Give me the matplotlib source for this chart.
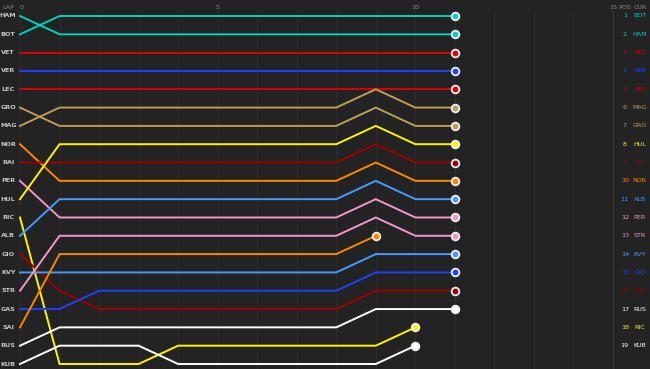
import numpy as np
import matplotlib.pyplot as plt

plt.rcParams['font.family'] = ['DejaVu Sans']

LAPS = list(range(12))
GRID = ["HAM", "BOT", "VET", "VER", "LEC", "GRO", "MAG", "NOR", "RAI", "PER",
        "HUL", "RIC", "ALB", "GIO", "KVY", "STR", "GAS", "SAI", "RUS", "KUB"]

# position per lap (lap 0 = grid); None once the driver has no more data
POSITIONS = {
    "HAM": [1, 2, 2, 2, 2, 2, 2, 2, 2, 2, 2, 2],
    "BOT": [2, 1, 1, 1, 1, 1, 1, 1, 1, 1, 1, 1],
    "VET": [3, 3, 3, 3, 3, 3, 3, 3, 3, 3, 3, 3],
    "VER": [4, 4, 4, 4, 4, 4, 4, 4, 4, 4, 4, 4],
    "LEC": [5, 5, 5, 5, 5, 5, 5, 5, 5, 5, 5, 5],
    "GRO": [6, 7, 7, 7, 7, 7, 7, 7, 7, 6, 7, 7],
    "MAG": [7, 6, 6, 6, 6, 6, 6, 6, 6, 5, 6, 6],
    "NOR": [8, 10, 10, 10, 10, 10, 10, 10, 10, 9, 10, 10],
    "RAI": [9, 9, 9, 9, 9, 9, 9, 9, 9, 8, 9, 9],
    "PER": [10, 12, 12, 12, 12, 12, 12, 12, 12, 11, 12, 12],
    "HUL": [11, 8, 8, 8, 8, 8, 8, 8, 8, 7, 8, 8],
    "RIC": [12, 20, 20, 20, 19, 19, 19, 19, 19, 19, 18, None],
    "ALB": [13, 11, 11, 11, 11, 11, 11, 11, 11, 10, 11, 11],
    "GIO": [14, 16, 17, 17, 17, 17, 17, 17, 17, 16, 16, 16],
    "KVY": [15, 15, 15, 15, 15, 15, 15, 15, 15, 14, 14, 14],
    "STR": [16, 13, 13, 13, 13, 13, 13, 13, 13, 12, 13, 13],
    "GAS": [17, 17, 16, 16, 16, 16, 16, 16, 16, 15, 15, 15],
    "SAI": [18, 14, 14, 14, 14, 14, 14, 14, 14, 13, None, None],
    "RUS": [19, 18, 18, 18, 18, 18, 18, 18, 18, 17, 17, 17],
    "KUB": [20, 19, 19, 19, 20, 20, 20, 20, 20, 20, 19, None],
}

COLORS = {
    "HAM": "#00d2be", "BOT": "#00d2be",
    "VET": "#dc0000", "LEC": "#dc0000",
    "VER": "#1e41ff", "GAS": "#1e41ff",
    "ALB": "#469bff", "KVY": "#469bff",
    "GRO": "#bd9e57", "MAG": "#bd9e57",
    "NOR": "#ff8700", "SAI": "#ff8700",
    "RAI": "#9b0000", "GIO": "#9b0000",
    "PER": "#f596c8", "STR": "#f596c8",
    "HUL": "#fff500", "RIC": "#fff500",
    "RUS": "#ffffff", "KUB": "#ffffff",
}

# current order shown on the right
CURRENT = ["BOT", "HAM", "VET", "VER", "LEC", "MAG", "GRO", "HUL", "RAI", "NOR",
           "ALB", "PER", "STR", "KVY", "GAS", "GIO", "RUS", "RIC", "KUB"]

BG = "#232323"
fig = plt.figure(figsize=(6.5, 3.69), dpi=100, facecolor=BG)
ax = fig.add_axes([0, 0, 1, 1], facecolor=BG)
ax.set_xlim(-20 / 39.53, 15 + 37 / 39.53)
ax.set_ylim(20 + 5 / 18.316, 1 - 16 / 18.316)
ax.axis("off")

for lap in range(16):
    ax.plot([lap, lap], [0.75, 20.4], color="#3a3a3a" if lap == 15 else "#2c2c2c",
            lw=0.8, zorder=0)

for drv in GRID:
    pos = POSITIONS[drv]
    laps = [l for l, p in zip(LAPS, pos) if p is not None]
    vals = [p for p in pos if p is not None]
    c = COLORS[drv]
    ax.plot(laps, vals, color=c, lw=1.4, solid_joinstyle="miter", zorder=2)
    ax.plot(laps[-1], vals[-1], "o", ms=5.5, mfc=c, mec="#f0f0f0", mew=1.3, zorder=3)

lab = dict(fontsize=4.6, color="#c8c8c8", va="center", ha="center", fontweight="bold")
for i, drv in enumerate(GRID):
    ax.text(-0.3, i + 1, drv, **lab)

for i, drv in enumerate(CURRENT):
    c = COLORS[drv]
    ax.text(15.3, i + 1, str(i + 1), fontsize=4.6, color=c, va="center", ha="center")
    ax.text(15.68, i + 1, drv, fontsize=4.6, color=c, va="center", ha="center")

hdr = dict(fontsize=4.6, color="#8a8a8a", va="center", ha="center")
ax.text(-0.3, 0.52, "LAP", **hdr)
for lap in [0, 5, 10, 15]:
    ax.text(lap + (0.05 if lap == 0 else 0), 0.52, str(lap), **hdr)
ax.text(15.3, 0.52, "POS", **hdr)
ax.text(15.68, 0.52, "CUR", **hdr)

fig.savefig("out.png", dpi=100, facecolor=BG)
